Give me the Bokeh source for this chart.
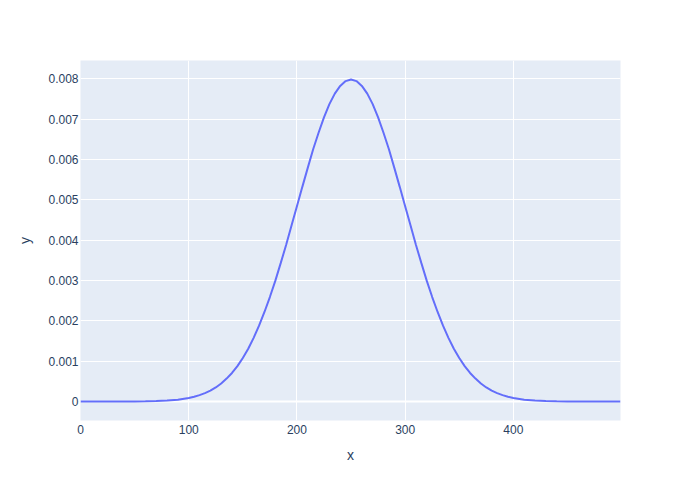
from bokeh.plotting import figure
from bokeh.models import Range1d, Span, FixedTicker
from bokeh.embed import file_html
from bokeh.resources import INLINE

x_vals = [0, 10, 20, 30, 40, 50, 60, 70, 80, 90, 100, 105, 110, 115, 120, 125, 130, 135, 140, 145,
          150, 155, 160, 165, 170, 175, 180, 185, 190, 195, 200, 205, 210, 215, 220, 225, 230, 235,
          240, 245, 250, 255, 260, 265, 270, 275, 280, 285, 290, 295, 300, 305, 310, 315, 320, 325,
          330, 335, 340, 345, 350, 355, 360, 365, 370, 375, 380, 385, 390, 395, 400, 410, 420, 430,
          440, 450, 460, 470, 480, 490, 499]
y_vals = [0.00000003, 0.00000006, 0.0000001, 0.0000003, 0.0000006, 0.0000027, 0.0000058, 0.000012,
          0.000025, 0.000048, 0.000089, 0.00012, 0.00016, 0.00021, 0.00027, 0.00035, 0.00045, 0.00057,
          0.00071, 0.00088, 0.00108, 0.00131, 0.00158, 0.00188, 0.00222, 0.00259, 0.00299, 0.00343,
          0.00388, 0.00436, 0.00484, 0.00532, 0.00579, 0.00625, 0.00666, 0.00704, 0.00737, 0.00763,
          0.00782, 0.00794, 0.00798, 0.00794, 0.00782, 0.00763, 0.00737, 0.00704, 0.00666, 0.00625,
          0.00579, 0.00532, 0.00484, 0.00436, 0.00388, 0.00343, 0.00299, 0.00259, 0.00222, 0.00188,
          0.00158, 0.00131, 0.00108, 0.00088, 0.00071, 0.00057, 0.00045, 0.00035, 0.00027, 0.00021,
          0.00016, 0.00012, 0.000089, 0.000048, 0.000025, 0.000012, 0.0000058, 0.0000027, 0.0000006,
          0.0000003, 0.0000001, 0.00000006, 0.00000003]
x_ticks = [0, 100, 200, 300, 400]
y_ticks = [0, 0.001, 0.002, 0.003, 0.004, 0.005, 0.006, 0.007, 0.008]
y_tick_labels = ["0", "0.001", "0.002", "0.003", "0.004", "0.005", "0.006", "0.007", "0.008"]

FONT = "Liberation Sans"
TXT = "#2a3f5f"

p = figure(width=700, height=500, output_backend="svg", toolbar_location=None,
           x_range=Range1d(0, 499), y_range=Range1d(-0.000468, 0.00845),
           min_border_left=80, min_border_right=80, min_border_top=60, min_border_bottom=80,
           x_axis_label="x", y_axis_label="y")
p.background_fill_color = "#E5ECF6"
p.border_fill_color = "white"
p.outline_line_color = None

p.xaxis.ticker = FixedTicker(ticks=x_ticks)
p.yaxis.ticker = FixedTicker(ticks=y_ticks)
p.yaxis.major_label_overrides = {t: l for t, l in zip(y_ticks, y_tick_labels)}
for ax in (p.xaxis, p.yaxis):
    ax.axis_line_color = None
    ax.major_tick_line_color = None
    ax.minor_tick_line_color = None
    ax.major_tick_out = 0
    ax.major_tick_in = 0
    ax.minor_tick_out = 0
    ax.minor_tick_in = 0
    ax.major_label_text_font = FONT
    ax.major_label_text_font_size = "12px"
    ax.major_label_text_color = TXT
    ax.axis_label_text_font = FONT
    ax.axis_label_text_font_size = "14px"
    ax.axis_label_text_font_style = "normal"
    ax.axis_label_text_color = TXT
p.xaxis.major_label_standoff = 4
p.yaxis.major_label_standoff = 2
p.xaxis.axis_label_standoff = 10
p.yaxis.axis_label_standoff = 12

p.grid.grid_line_color = "white"
p.grid.grid_line_width = 1
p.add_layout(Span(location=0, dimension="width", line_color="white", line_width=2, level="underlay"))

p.line(x_vals, y_vals, line_color="#636EFA", line_width=2)

open("out.html", "w").write(file_html(p, INLINE))
